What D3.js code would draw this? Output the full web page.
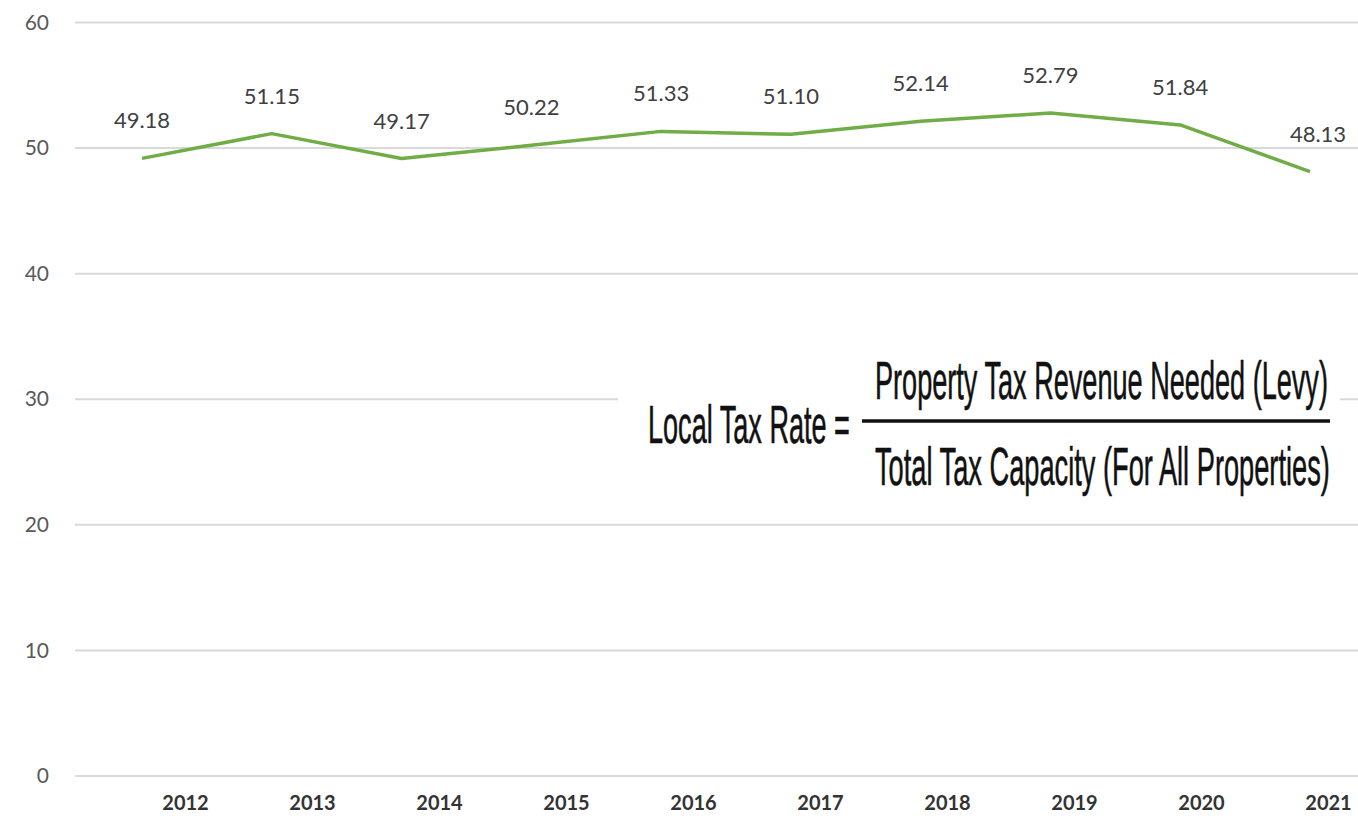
<!DOCTYPE html>
<html>
<head>
<meta charset="utf-8">
<script src="https://cdn.jsdelivr.net/npm/d3@7"></script>
<style>
  html, body { margin: 0; padding: 0; background: #fff; }
  svg { display: block; }
</style>
</head>
<body>
<div id="chart"></div>
<script>
// datos
const years = ["2012", "2013", "2014", "2015", "2016", "2017", "2018", "2019", "2020", "2021"]
const rates = [49.18, 51.15, 49.17, 50.22, 51.33, 51.10, 52.14, 52.79, 51.84, 48.13]
const yTicks = [0, 10, 20, 30, 40, 50, 60]
const formulaLeft = "Local Tax Rate ="
const formulaTop = "Property Tax Revenue Needed (Levy)"
const formulaBottom = "Total Tax Capacity (For All Properties)"

const width = 1358, height = 816

const svg = d3.select("#chart").append("svg")
    .attr("width", width)
    .attr("height", height)
    .attr("viewBox", [0, 0, width, height])

const x = d3.scalePoint()
    .domain(years)
    .range([142, 1310])

// las etiquetas del eje no caen justo bajo los puntos en el original
const xLabels = d3.scalePoint()
    .domain(years)
    .range([185, 1328])

const y = d3.scaleLinear()
    .domain([0, 60])
    .range([776, 22.5])

// rejilla
svg.append("g")
    .selectAll("line")
    .data(yTicks)
    .join("line")
    .attr("x1", 75)
    .attr("x2", width)
    .attr("y1", d => y(d))
    .attr("y2", d => y(d))
    .attr("stroke", "#d9d9d9")
    .attr("stroke-width", 2)

// eje Y
const yAxis = d3.axisLeft(y).tickValues(yTicks).tickSize(0).tickPadding(0)
svg.append("g")
    .attr("transform", "translate(49,0)")
    .call(yAxis)
    .call(g => g.select(".domain").remove())
    .selectAll("text")
    .attr("fill", "#595959")
    .attr("font-family", "Lato, 'Open Sans', sans-serif")
    .attr("font-size", "21px")

// eje X
const xAxis = d3.axisBottom(xLabels).tickSize(0).tickPadding(0)
svg.append("g")
    .attr("transform", "translate(0,796)")
    .call(xAxis)
    .call(g => g.select(".domain").remove())
    .selectAll("text")
    .attr("fill", "#333")
    .attr("font-family", "Lato, 'Open Sans', sans-serif")
    .attr("font-weight", "bold")
    .attr("font-size", "20px")

// línea
const line = d3.line()
    .x((d, i) => x(years[i]))
    .y(d => y(d))

svg.append("path")
    .datum(rates)
    .attr("fill", "none")
    .attr("stroke", "#70ad47")
    .attr("stroke-width", 3.5)
    .attr("stroke-linejoin", "round")
    .attr("d", line)

// etiquetas de datos
svg.append("g")
    .selectAll("text")
    .data(rates)
    .join("text")
    .attr("x", (d, i) => x(years[i]) + (i === rates.length - 1 ? 8 : 0))
    .attr("y", d => y(d) - 30)
    .attr("text-anchor", "middle")
    .attr("fill", "#404040")
    .attr("font-family", "Lato, 'Open Sans', sans-serif")
    .attr("font-size", "22px")
    .text(d => d3.format(".2f")(d))

// fórmula
const f = svg.append("g")

f.append("rect")
    .attr("x", 618)
    .attr("y", 345)
    .attr("width", 722)
    .attr("height", 165)
    .attr("fill", "#fff")

// texto estrecho y alto, ajustado al ancho que ocupa en el original
function narrowText(str, x0, baseline, targetWidth, size) {
    const t = f.append("text")
        .attr("font-family", "'Liberation Sans Narrow', 'Liberation Sans', Arial, sans-serif")
        .attr("font-size", size + "px")
        .attr("fill", "#111")
        .attr("stroke", "#111")
        .attr("stroke-width", 0.6)
        .text(str)
    const w = t.node().getComputedTextLength()
    t.attr("transform", `translate(${x0},${baseline}) scale(${targetWidth / w},1)`)
}

narrowText(formulaLeft, 648, 443, 202, 54)
narrowText(formulaTop, 875, 399, 453, 54)
narrowText(formulaBottom, 875, 485, 455, 54)

f.append("line")
    .attr("x1", 862)
    .attr("x2", 1330)
    .attr("y1", 421)
    .attr("y2", 421)
    .attr("stroke", "#111")
    .attr("stroke-width", 3.5)
</script>
</body>
</html>
